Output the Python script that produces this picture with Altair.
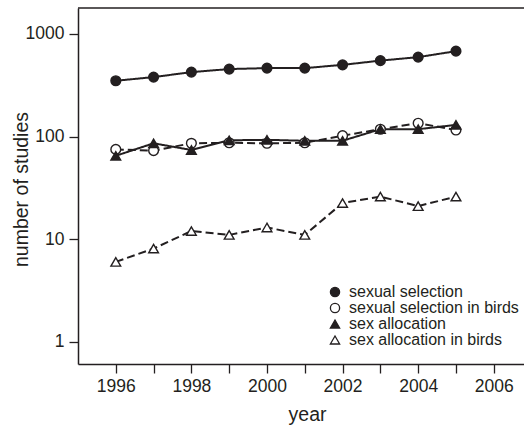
import altair as alt
import pandas as pd

# Publication counts per year (log scale)
years = [1996, 1997, 1998, 1999, 2000, 2001, 2002, 2003, 2004, 2005]
sexual_selection = [350, 380, 425, 455, 465, 465, 500, 550, 595, 680]
sexual_selection_birds = [75, 73, 86, 87, 86, 87, 102, 118, 135, 116]
sex_allocation = [65, 86, 74, 92, 93, 91, 91, 118, 118, 130]
sex_allocation_birds = [6, 8.1, 12, 11, 13, 11, 22.5, 26, 21, 26]

series_names = [
    "sexual selection",
    "sexual selection in birds",
    "sex allocation",
    "sex allocation in birds",
]
line_styles = ["solid", "dashed", "solid", "dashed"]
series_values = [sexual_selection, sexual_selection_birds, sex_allocation, sex_allocation_birds]

rows = []
for name, style, vals in zip(series_names, line_styles, series_values):
    for yr, v in zip(years, vals):
        rows.append({"year": yr, "studies": v, "series": name, "style": style})
df = pd.DataFrame(rows)

INK = "#231f20"
FONT = "Liberation Sans"
W, H = 446, 356

x_enc = alt.X(
    "year:Q",
    scale=alt.Scale(domain=[1995, 2006.8], nice=False, zero=False),
    axis=alt.Axis(
        title="year",
        values=list(range(1996, 2007)),
        format="d",
        labelExpr="datum.value % 2 == 0 ? datum.label : ''",
        grid=False,
        tickSize=9,
        labelPadding=4,
        titleX=229,
        titleY=56,
        titleBaseline="alphabetic",
    ),
)
y_enc = alt.Y(
    "studies:Q",
    scale=alt.Scale(type="log", domain=[0.607, 1792], nice=False),
    axis=alt.Axis(
        title="number of studies",
        values=[1, 10, 100, 1000],
        format="d",
        grid=False,
        tickSize=9,
        labelPadding=5,
        titleX=-51,
        titleY=181,
        titleAngle=-90,
        titleAlign="center",
        titleBaseline="alphabetic",
    ),
)

lines = alt.Chart(df).mark_line(color=INK, strokeWidth=2).encode(
    x=x_enc,
    y=y_enc,
    detail="series:N",
    strokeDash=alt.StrokeDash(
        "style:N",
        scale=alt.Scale(domain=["solid", "dashed"], range=[[1, 0], [8, 4]]),
        legend=None,
    ),
)

points = alt.Chart(df).mark_point(
    strokeWidth=1.4, opacity=1, fillOpacity=1, size=95
).encode(
    x="year:Q",
    y="studies:Q",
    shape=alt.Shape(
        "series:N",
        scale=alt.Scale(domain=series_names, range=["circle", "circle", "triangle-up", "triangle-up"]),
        legend=alt.Legend(title=None),
    ),
    fill=alt.Fill(
        "series:N",
        scale=alt.Scale(domain=series_names, range=[INK, "white", INK, "white"]),
        legend=alt.Legend(title=None),
    ),
    stroke=alt.Stroke(
        "series:N",
        scale=alt.Scale(domain=series_names, range=[INK, INK, INK, INK]),
        legend=alt.Legend(title=None),
    ),
)

# top edge of the frame
frame_top = alt.Chart(pd.DataFrame({"k": [0]})).mark_rule(color=INK, strokeWidth=1.5).encode(
    x=alt.value(0), x2=alt.value(W), y=alt.value(0)
)

chart = (
    alt.layer(lines, points, frame_top)
    .properties(
        width=W,
        height=H,
        autosize=alt.AutoSizeParams(type="none"),
        padding={"left": 78, "top": 8, "right": 0, "bottom": 61},
    )
    .configure_view(stroke=None)
    .configure_axis(
        domainColor=INK,
        domainWidth=1.5,
        tickColor=INK,
        tickWidth=1.3,
        labelColor=INK,
        titleColor=INK,
        labelFont=FONT,
        titleFont=FONT,
        labelFontSize=17.5,
        titleFontSize=19.5,
        titleFontWeight="normal",
    )
    .configure_legend(
        orient="none",
        legendX=249,
        legendY=276,
        labelFont=FONT,
        labelFontSize=16,
        labelColor=INK,
        labelOffset=6,
        labelLimit=400,
        rowPadding=-1,
        symbolSize=85,
        symbolStrokeWidth=1.3,
        padding=0,
    )
)

chart.save("out.html", embed_options={"renderer": "svg", "actions": False})
